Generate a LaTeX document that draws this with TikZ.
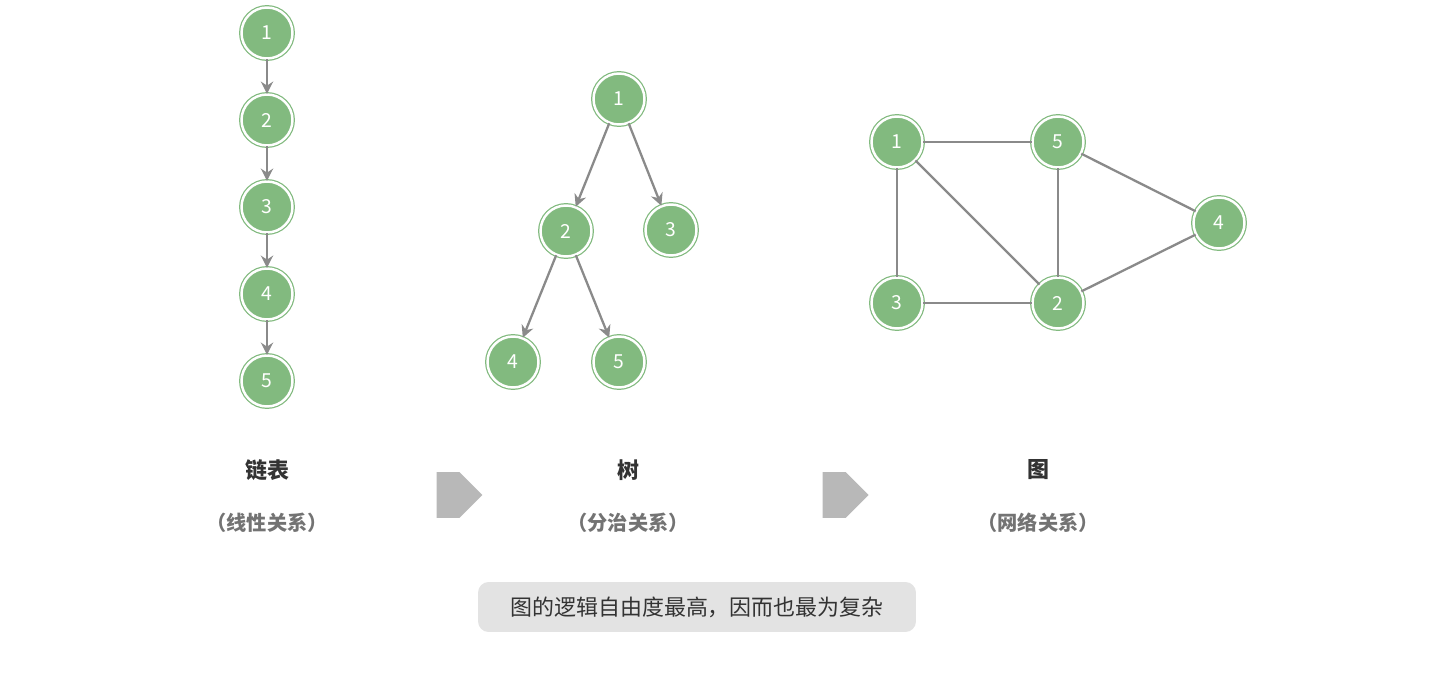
\documentclass[tikz,border=0pt]{standalone}
\usepackage{fontspec}
\setmainfont{Noto Sans CJK SC}
\usetikzlibrary{arrows.meta,shapes.arrows}
\definecolor{nodegreen}{HTML}{82BA7F}
\definecolor{edgegray}{HTML}{8A8A8A}

\begin{document}
\begin{tikzpicture}[x=0.02cm,y=-0.02cm,
  vert/.style={circle,fill=nodegreen,draw=nodegreen,double=white,double distance=1.4pt,
    line width=0.7pt,minimum size=1.02cm,inner sep=0pt,text=white,font=\fontsize{11}{11}\selectfont},
  link/.style={draw=edgegray,line width=1.3pt},
  arc/.style={link,-{Stealth[length=7pt,width=7pt]}},
  title/.style={font=\fontsize{12.5}{14}\selectfont\bfseries,text=black!80},
  note/.style={font=\fontsize{11.5}{14}\selectfont\bfseries,text=black!55},
  step arrow/.style={single arrow,fill=black!28,minimum width=0.92cm,minimum height=0.92cm,
    single arrow head extend=0pt,inner sep=0pt}]
  \useasboundingbox (0,0) rectangle (1447,675);

  % linked list
  \foreach \i/\y in {1/33,2/120,3/207,4/294,5/381}
    \node[vert] (l\i) at (267,\y) {\i};
  \foreach \a/\b in {1/2,2/3,3/4,4/5}
    \draw[arc] (l\a) -- (l\b);

  % tree
  \node[vert] (t1) at (619,99) {1};
  \node[vert] (t2) at (566,231) {2};
  \node[vert] (t3) at (671,230) {3};
  \node[vert] (t4) at (513,362) {4};
  \node[vert] (t5) at (619,362) {5};
  \draw[arc] (t1) -- (t2);
  \draw[arc] (t1) -- (t3);
  \draw[arc] (t2) -- (t4);
  \draw[arc] (t2) -- (t5);

  % graph
  \node[vert] (g1) at (897,142) {1};
  \node[vert] (g5) at (1058,142) {5};
  \node[vert] (g4) at (1219,223) {4};
  \node[vert] (g3) at (897,303) {3};
  \node[vert] (g2) at (1058,303) {2};
  \foreach \a/\b in {1/5,1/3,1/2,5/2,5/4,3/2,2/4}
    \draw[link] (g\a) -- (g\b);

  % captions
  \node[title] (cap1) at (267,470) {链表};
  \node[note] (sub1) at (267,523) {（线性关系）};
  \node[title] (cap2) at (628,470) {树};
  \node[note] (sub2) at (628,523) {（分治关系）};
  \node[title] (cap3) at (1038,470) {图};
  \node[note] (sub3) at (1038,523) {（网络关系）};
  \node[step arrow] (s1) at (448,495) {};
  \node[step arrow] (s2) at (834,495) {};

  \node[fill=black!11,rounded corners=6pt,minimum width=8.76cm,minimum height=1cm,
    font=\fontsize{12.5}{14}\selectfont,text=black!80] (remark) at (697,607)
    {图的逻辑自由度最高，因而也最为复杂};
\end{tikzpicture}
\end{document}
